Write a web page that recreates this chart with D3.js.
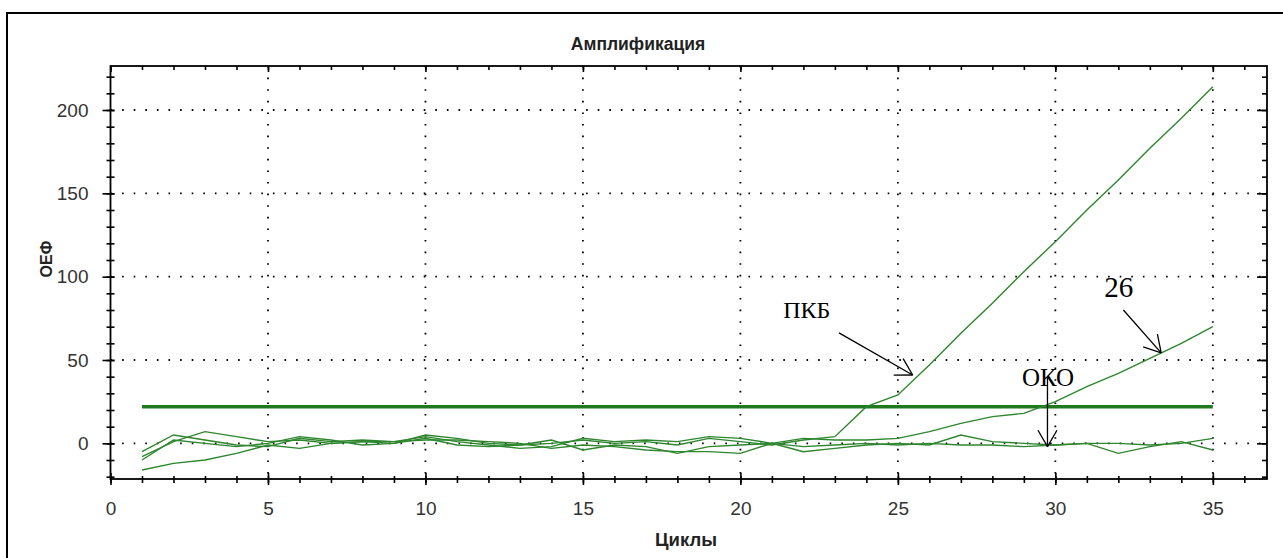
<!DOCTYPE html>
<html><head><meta charset="utf-8">
<script src="https://cdn.jsdelivr.net/npm/d3@7"></script>
<style>
body{margin:0;background:#fff;}
svg{display:block;}
</style></head>
<body>
<svg id="chart" width="1283" height="558"></svg>
<script>
// ---- data ----
const cycles = d3.range(1, 36);
const seriesPKB = [-8, 1, 7, 4, 1, 2, 0, 1, 0, 5, 3, 0, -1, 0, 2, 0, 1, -1, 3, 1, -1, 2, 4, 22, 29, 47, 66, 84, 103, 121, 140, 158, 177, 195, 214];
const series26  = [-5, 5, 2, -1, -2, 3, 1, 2, 1, 4, 1, -1, -3, -2, 3, 1, 2, 1, 4, 3, 0, 3, 2, 2, 3, 7, 12, 16, 18, 25, 34, 42, 51, 60, 70];
const seriesOKO = [-10, 2, 0, -2, 0, 4, 2, -1, 0, 3, -1, -2, -1, 2, -4, -1, -2, -6, -2, -1, 0, -2, -1, 0, -1, 0, -1, -1, -2, -1, 0, 0, -1, 0, 3];
const seriesS4  = [-16, -12, -10, -6, -1, -3, 0, 1, 1, 2, 2, 1, 0, -3, -1, -2, -4, -5, -5, -6, 0, -5, -3, -1, 0, -1, 5, 1, 0, -1, 0, -6, -2, 1, -4];
const thresholdValue = 22;
const thresholdRange = [1, 35];
const xMajorTicks = [0, 5, 10, 15, 20, 25, 30, 35];
const xMinorTicks = d3.range(0, 37, 1);
const yMajorTicks = [0, 50, 100, 150, 200];
const yMinorTicks = d3.range(-20, 230, 10);
const xDomain = [0, 36.72];
const yDomain = [-21.4, 226.4];
const titleText = "Амплификация";
const xLabel = "Циклы";
const yLabel = "ОЕФ";
// annotations: label position and arrow (data units)
const annotations = [
  {text: "ПКБ", tx: 21.36, ty: 75.2, size: 24, ax1: 23.13, ay1: 66.3, ax2: 25.47, ay2: 41.0},
  {text: "26",  tx: 31.55, ty: 87.9, size: 29, ax1: 32.16, ay1: 80.0, ax2: 33.36, ay2: 54.3},
  {text: "ОКО", tx: 28.94, ty: 34.4, size: 25, ax1: 29.75, ay1: 40.0, ax2: 29.75, ay2: -2.0}
];

// ---- layout ----
const svg = d3.select("#chart");
const L = 110.5, R = 1267, T = 66, B = 479;
const x = d3.scaleLinear().domain(xDomain).range([L, R]);
const y = d3.scaleLinear().domain(yDomain).range([B, T]);

svg.append("rect").attr("width", 1283).attr("height", 558).attr("fill", "#fff");
// outer frame
svg.append("rect").attr("x", 7).attr("y", 13).attr("width", 1300).attr("height", 600)
  .attr("fill", "none").attr("stroke", "#000").attr("stroke-width", 2);

// grid
const grid = svg.append("g");
grid.selectAll(".vg").data(xMajorTicks.filter(d => d > 0)).join("line")
  .attr("x1", d => x(d)).attr("x2", d => x(d)).attr("y1", T).attr("y2", B)
  .attr("stroke", "#000").attr("stroke-width", 1.8).attr("stroke-dasharray", "1.6 10");
grid.selectAll(".hg").data(yMajorTicks).join("line")
  .attr("y1", d => y(d)).attr("y2", d => y(d)).attr("x1", L).attr("x2", R)
  .attr("stroke", "#000").attr("stroke-width", 1.8).attr("stroke-dasharray", "1.6 10");

const fontTick = "'Liberation Sans', Arial, sans-serif";
// bottom minor
const gxMin = svg.append("g").attr("transform", `translate(0,${B})`)
  .call(d3.axisBottom(x).tickValues(xMinorTicks).tickFormat("").tickSizeOuter(0));
gxMin.select(".domain").remove();
gxMin.selectAll(".tick line").attr("y1", -3).attr("y2", 4).attr("stroke-width", 1.6);
// bottom major
const gxMaj = svg.append("g").attr("transform", `translate(0,${B})`)
  .call(d3.axisBottom(x).tickValues(xMajorTicks).tickSizeOuter(0).tickPadding(17));
gxMaj.select(".domain").remove();
gxMaj.selectAll(".tick line").attr("y1", -6).attr("y2", 6).attr("stroke-width", 1.6);
gxMaj.selectAll("text").attr("font-family", fontTick).attr("font-size", 19).attr("fill", "#333");
// top ticks (inside)
const gxTop = svg.append("g").attr("transform", `translate(0,${T})`)
  .call(d3.axisTop(x).tickValues(xMinorTicks).tickFormat("").tickSizeInner(-4).tickSizeOuter(0));
gxTop.select(".domain").remove();
gxTop.selectAll(".tick line").attr("stroke-width", 1.6);
const gxTop2 = svg.append("g").attr("transform", `translate(0,${T})`)
  .call(d3.axisTop(x).tickValues(xMajorTicks).tickFormat("").tickSizeInner(-6).tickSizeOuter(0));
gxTop2.select(".domain").remove();
gxTop2.selectAll(".tick line").attr("stroke-width", 1.6);

// left minor
const gyMin = svg.append("g").attr("transform", `translate(${L},0)`)
  .call(d3.axisLeft(y).tickValues(yMinorTicks).tickFormat("").tickSizeOuter(0));
gyMin.select(".domain").remove();
gyMin.selectAll(".tick line").attr("x1", -4).attr("x2", 4).attr("stroke-width", 1.6);
const gyMaj = svg.append("g").attr("transform", `translate(${L},0)`)
  .call(d3.axisLeft(y).tickValues(yMajorTicks).tickSizeOuter(0).tickPadding(16));
gyMaj.select(".domain").remove();
gyMaj.selectAll(".tick line").attr("x1", -8).attr("x2", 4).attr("stroke-width", 1.6);
gyMaj.selectAll("text").attr("font-family", fontTick).attr("font-size", 19).attr("fill", "#333");
// right ticks (inside)
const gyR = svg.append("g").attr("transform", `translate(${R},0)`)
  .call(d3.axisRight(y).tickValues(yMinorTicks).tickFormat("").tickSizeInner(-5).tickSizeOuter(0));
gyR.select(".domain").remove();
gyR.selectAll(".tick line").attr("stroke-width", 1.6);
const gyR2 = svg.append("g").attr("transform", `translate(${R},0)`)
  .call(d3.axisRight(y).tickValues(yMajorTicks).tickFormat("").tickSizeInner(-10).tickSizeOuter(0));
gyR2.select(".domain").remove();
gyR2.selectAll(".tick line").attr("stroke-width", 1.6);

// plot frame
svg.append("rect").attr("x", L).attr("y", T).attr("width", R - L).attr("height", B - T)
  .attr("fill", "none").attr("stroke", "#000").attr("stroke-width", 1.8);

// threshold
svg.append("line")
  .attr("x1", x(thresholdRange[0])).attr("x2", x(thresholdRange[1]))
  .attr("y1", y(thresholdValue)).attr("y2", y(thresholdValue))
  .attr("stroke", "#1f7a1f").attr("stroke-width", 3.5);

// curves
const line = d3.line().x((d, i) => x(cycles[i])).y(d => y(d));
const allSeries = [seriesS4, seriesOKO, series26, seriesPKB];
svg.append("g").selectAll("path").data(allSeries).join("path")
  .attr("d", d => line(d)).attr("fill", "none")
  .attr("stroke", "#2e862e").attr("stroke-width", 1.4);

// titles
svg.append("text").attr("x", 638).attr("y", 50).attr("text-anchor", "middle")
  .attr("font-family", fontTick).attr("font-weight", "bold").attr("font-size", 17.5).attr("fill", "#222")
  .text(titleText);
svg.append("text").attr("x", 686).attr("y", 546).attr("text-anchor", "middle")
  .attr("font-family", fontTick).attr("font-weight", "bold").attr("font-size", 18.5).attr("fill", "#222")
  .text(xLabel);
svg.append("text").attr("transform", "translate(52,259) rotate(-90)").attr("text-anchor", "middle")
  .attr("font-family", fontTick).attr("font-weight", "bold").attr("font-size", 16).attr("fill", "#222")
  .text(yLabel);

// annotations
const ann = svg.append("g");
annotations.forEach(a => {
  ann.append("text").attr("x", x(a.tx)).attr("y", y(a.ty))
    .attr("font-family", "'Liberation Serif', 'Times New Roman', serif")
    .attr("font-size", a.size).attr("fill", "#000").text(a.text);
  const x1 = x(a.ax1), y1 = y(a.ay1), x2 = x(a.ax2), y2 = y(a.ay2);
  ann.append("line").attr("x1", x1).attr("y1", y1).attr("x2", x2).attr("y2", y2)
    .attr("stroke", "#000").attr("stroke-width", 1.3);
  const ang = Math.atan2(y1 - y2, x1 - x2), hl = 19, ha = Math.PI / 6;
  [ang - ha, ang + ha].forEach(t => {
    ann.append("line").attr("x1", x2).attr("y1", y2)
      .attr("x2", x2 + hl * Math.cos(t)).attr("y2", y2 + hl * Math.sin(t))
      .attr("stroke", "#000").attr("stroke-width", 1.3);
  });
});
</script>
</body></html>
